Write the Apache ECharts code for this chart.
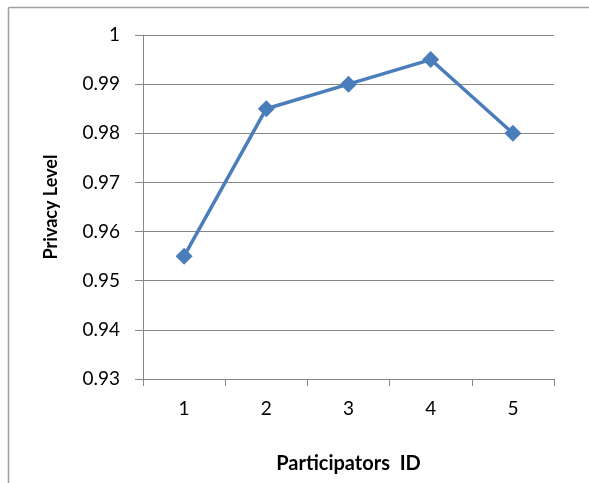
<!DOCTYPE html>
<html><head><meta charset="utf-8">
<script src="https://cdn.jsdelivr.net/npm/echarts@6/dist/echarts.min.js"></script>
<style>html,body{margin:0;padding:0;background:#fff}#c{width:589px;height:483px}</style>
</head><body><div id="c"></div>
<script>
const categories = ['1','2','3','4','5'];
const privacyLevel = [0.955, 0.985, 0.99, 0.995, 0.98];
const yMin = 0.93, yMax = 1, yStep = 0.01;

const chart = echarts.init(document.getElementById('c'));
const gray = '#868686';
chart.setOption({
  animation: false,
  graphic: [
    {type:'line', shape:{x1:8.5,y1:7.5,x2:589,y2:7.5}, style:{stroke:'#a0a0a0',lineWidth:1.5}},
    {type:'line', shape:{x1:8.5,y1:7.5,x2:8.5,y2:483}, style:{stroke:'#a0a0a0',lineWidth:1.5}}
  ],
  grid: {left:143, right:35, top:35, bottom:104},
  xAxis: {
    type:'category', data:categories, boundaryGap:true,
    name:'Participators  ID', nameLocation:'middle', nameGap:75,
    nameTextStyle:{fontFamily:'Lato', fontWeight:'bold', fontSize:20, color:'#000'},
    axisLine:{lineStyle:{color:gray,width:1}},
    axisTick:{show:true, length:7, lineStyle:{color:gray}},
    axisLabel:{fontFamily:'Lato', fontSize:19, color:'#000', margin:20}
  },
  yAxis: {
    type:'value', min:yMin, max:yMax, interval:yStep,
    name:'Privacy Level', nameLocation:'middle', nameGap:83,
    nameTextStyle:{fontFamily:'Lato', fontWeight:'bold', fontSize:18, color:'#000'},
    axisLine:{show:true, lineStyle:{color:gray,width:1}},
    axisTick:{show:true, length:8, lineStyle:{color:gray}},
    axisLabel:{fontFamily:'Lato', fontSize:19, color:'#000', margin:23,
      formatter: v => String(Math.round(v*100)/100)},
    splitLine:{show:true, lineStyle:{color:gray,width:1}}
  },
  series: [{
    type:'line', data:privacyLevel, symbol:'diamond', symbolSize:17,
    lineStyle:{color:'#4a7ebb', width:3.5}, itemStyle:{color:'#4a7ebb'}
  }]
});
</script></body></html>
